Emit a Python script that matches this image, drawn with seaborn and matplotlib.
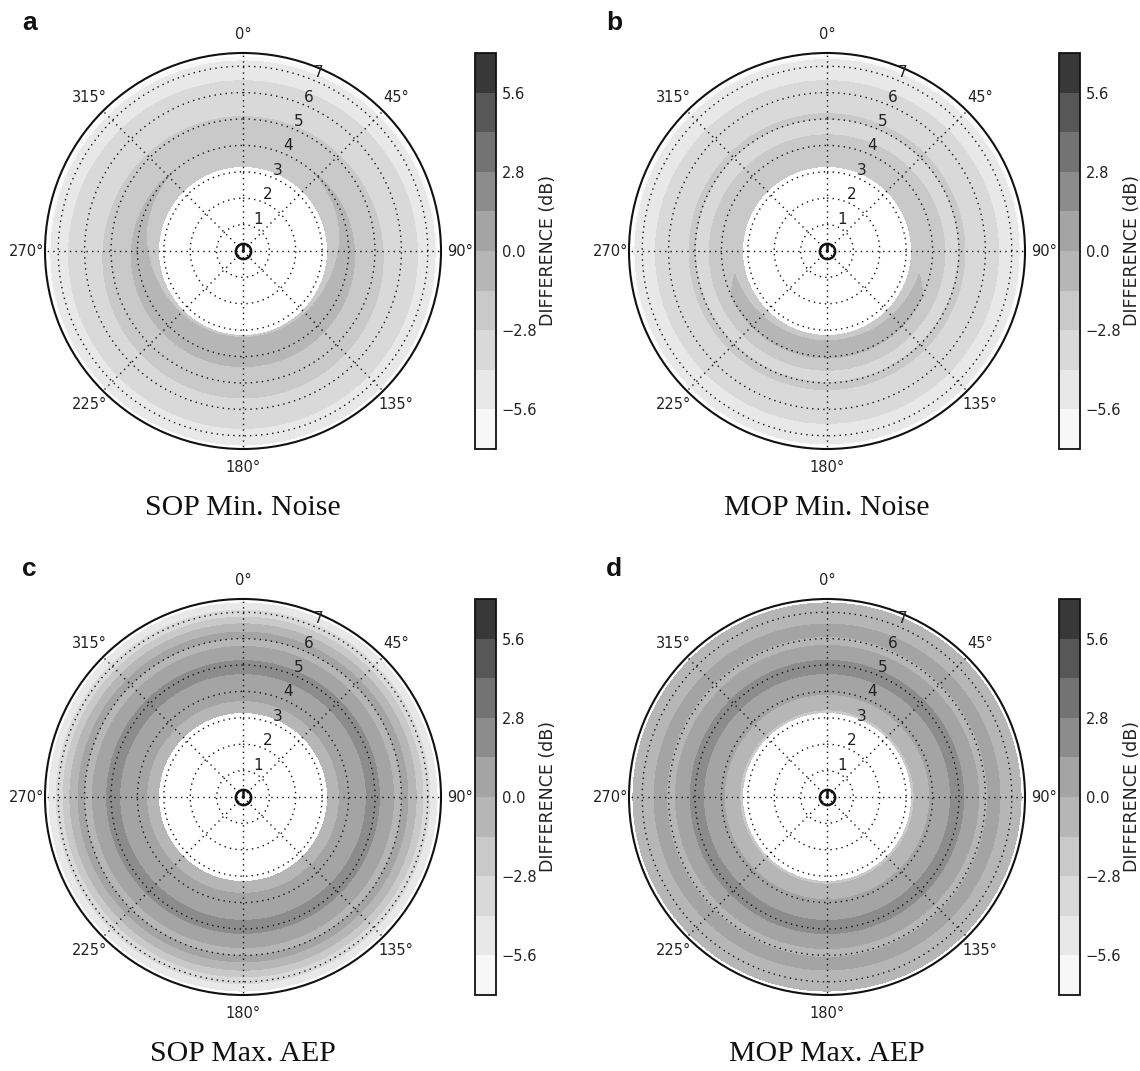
import numpy as np
import matplotlib
matplotlib.use("Agg")
import matplotlib.pyplot as plt
import seaborn as sns
from matplotlib.ticker import FuncFormatter

sns.set_style("white")
plt.rcParams['font.family'] = ['DejaVu Sans']

# ---------------- data ----------------
levels = [-7.0, -5.6, -4.2, -2.8, -1.4, 0.0, 1.4, 2.8, 4.2, 5.6, 7.0]
band_hex = ['#f7f7f7', '#e8e8e8', '#d9d9d9', '#c9c9c9', '#b6b6b6',
            '#a4a4a4', '#8c8c8c', '#737373', '#575757', '#383838']
cbar_ticks = [-5.6, -2.8, 0.0, 2.8, 5.6]
angle_ticks = [0, 45, 90, 135, 180, 225, 270, 315]
angle_labels = ['0°', '45°', '90°', '135°', '180°', '225°', '270°', '315°']
r_ticks = [1, 2, 3, 4, 5, 6, 7]
r_labels = ['1', '2', '3', '4', '5', '6', '7']
titles = ['SOP Min. Noise', 'MOP Min. Noise', 'SOP Max. AEP', 'MOP Max. AEP']
letters = ['a', 'b', 'c', 'd']

# radial profiles (radius knots, values toward 0° and toward 180°)
a_radius = [3.2, 3.35, 3.7, 4.0, 4.3, 5.2, 6.5, 7.2, 7.35]
a_north = [-1.9, -1.8, -1.75, -1.5, -1.7, -2.95, -4.25, -5.6, -5.9]
a_south = [-1.5, -1.3, -0.95, -0.7, -1.3, -2.45, -3.7, -5.3, -5.6]

b_radius = [3.2, 3.6, 4.0, 4.3, 4.6, 4.9, 5.1, 5.3, 6.5, 7.2, 7.35]
b_north = [-2.1, -1.9, -1.9, -2.6, -3.2, -3.0, -2.6, -3.0, -4.25, -5.5, -5.8]
b_south = [-1.7, -1.1, -1.2, -2.3, -3.0, -2.95, -2.5, -2.9, -4.15, -5.4, -5.7]

c_radius = [3.2, 3.45, 3.75, 4.2, 4.65, 4.95, 5.2, 5.45, 5.85, 6.15, 6.4,
            6.7, 6.95, 7.2, 7.35]
c_north = [-0.8, -0.3, 0.15, 0.9, 1.35, 2.0, 1.3, 0.6, -0.35, 0.3, -0.5,
           -2.2, -3.5, -4.9, -5.3]
c_south = c_north

d_radius = [3.2, 3.4, 3.7, 4.0, 4.5, 4.95, 5.25, 5.5, 5.9, 6.3, 6.75,
            7.1, 7.35]
d_north = [-1.7, -1.1, -0.5, 0.3, 1.0, 2.0, 1.2, 0.6, -0.4, 0.5, -0.4,
           -0.9, -1.1]
d_south = d_north

panels = [(a_radius, a_north, a_south), (b_radius, b_north, b_south),
          (c_radius, c_north, c_south), (d_radius, d_north, d_south)]

# ---------------- layout ----------------
W, H = 1140, 1071
centers = [(243, 251), (827, 251), (243, 797), (827, 797)]
RAD = 198
CB_DX, CB_W = 232, 21
band_colors = sns.color_palette(band_hex)


def cbar_fmt(v, pos):
    return f'{v:.1f}'.replace('-', '\u2212')


fig = plt.figure(figsize=(W / 100, H / 100), dpi=100)
theta = np.deg2rad(np.linspace(0, 360, 721))

for i, (cx, cy) in enumerate(centers):
    rad, north, south = panels[i]
    rad = np.asarray(rad, float)
    north = np.asarray(north, float)
    south = np.asarray(south, float)
    TH, RR = np.meshgrid(theta, rad)
    w = (1 - np.cos(TH)) / 2.0
    Z = north[:, None] * (1 - w) + south[:, None] * w

    ax = fig.add_axes([(cx - RAD) / W, 1 - (cy + RAD) / H, 2 * RAD / W, 2 * RAD / H],
                      projection='polar')
    ax.set_theta_zero_location('N')
    ax.set_theta_direction(-1)
    cs = ax.contourf(TH, RR, Z, levels=levels, colors=band_colors)
    ax.set_ylim(0, 7.5)
    ax.set_yticks(r_ticks)
    ax.set_yticklabels(r_labels)
    ax.set_rlabel_position(22.5)
    ax.set_thetagrids(angle_ticks, angle_labels)
    ax.set_axisbelow(False)
    ax.grid(True, linestyle=(0, (1, 3)), color='#111111', linewidth=1.0)
    ax.tick_params(axis='x', labelsize=10.5, pad=3, colors='#222222')
    ax.tick_params(axis='y', labelsize=11, colors='#222222')
    ax.spines['polar'].set_linewidth(1.5)
    ax.spines['polar'].set_color('#111111')
    # turbine marker at the centre
    ax.plot([0], [0], 'o', ms=11, mfc='none', mec='#111111', mew=1.8, zorder=5)
    ax.plot([0, 0], [0, 0.28], color='#111111', lw=1.8, zorder=5)

    cax = fig.add_axes([(cx + CB_DX) / W, 1 - (cy + RAD) / H, CB_W / W, 2 * RAD / H])
    cb = fig.colorbar(cs, cax=cax, ticks=cbar_ticks)
    cb.ax.yaxis.set_major_formatter(FuncFormatter(cbar_fmt))
    cb.ax.tick_params(direction='in', length=5, width=1, labelsize=10.5,
                      colors='#222222', pad=4)
    cb.outline.set_linewidth(1.3)
    cb.outline.set_edgecolor('#111111')
    cb.set_label('DIFFERENCE (dB)', fontsize=12.5, color='#222222', labelpad=1)

    fig.text(cx / W, 1 - (cy + 257) / H, titles[i], family='Liberation Serif',
             fontsize=21.5, ha='center', va='center', color='#111111')
    fig.text((cx - 221) / W, 1 - (cy - 228) / H, letters[i], family='Liberation Sans',
             fontweight='bold', fontsize=19, ha='left', va='center', color='#111111')

fig.savefig('out.png', dpi=100)
